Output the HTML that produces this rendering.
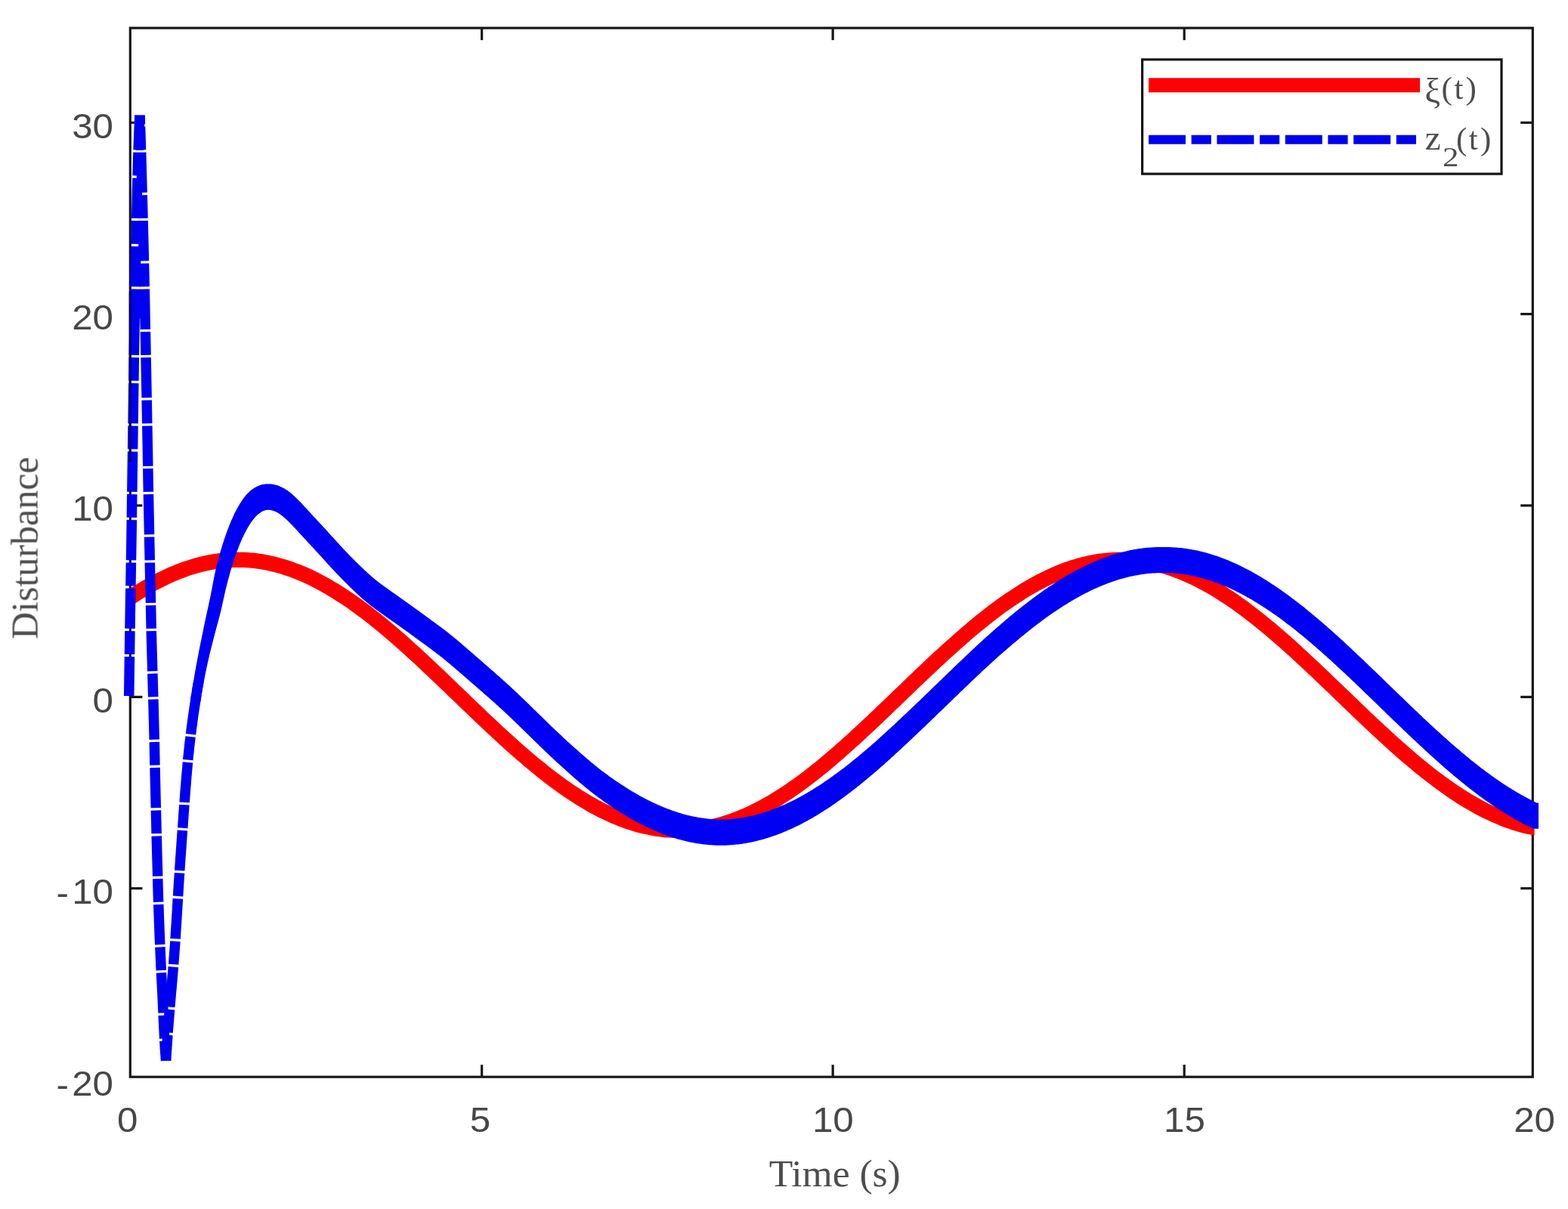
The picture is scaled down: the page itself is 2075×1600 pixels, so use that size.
<!DOCTYPE html>
<html lang="en">
<head>
<meta charset="utf-8">
<title>Disturbance estimation</title>
<style>
html,body{margin:0;padding:0;background:#ffffff;}
body{width:2075px;height:1600px;overflow:hidden;}
svg{display:block;}
</style>
</head>
<body>
<svg width="2075" height="1600" viewBox="0 0 2075 1600">
<defs>
<clipPath id="cr"><rect x="173.0" y="0" width="1857.6" height="1600"/></clipPath>
<clipPath id="cb"><rect x="150" y="0" width="1886.0" height="1600"/></clipPath>
<filter id="soft" x="-2%" y="-2%" width="104%" height="104%"><feGaussianBlur stdDeviation="0.7"/></filter>
</defs>
<rect width="2075" height="1600" fill="#ffffff"/>
<g filter="url(#soft)">
<rect x="172.3" y="37.05" width="1856.00" height="1388.15" fill="none" stroke="#161616" stroke-width="3.2"/>
<g stroke="#161616" stroke-width="3.2" fill="none">
<line x1="637.6" y1="1425.2" x2="637.6" y2="1409.1"/>
<line x1="637.6" y1="37.05" x2="637.6" y2="53.1"/>
<line x1="1102.1" y1="1425.2" x2="1102.1" y2="1409.1"/>
<line x1="1102.1" y1="37.05" x2="1102.1" y2="53.1"/>
<line x1="1567.2" y1="1425.2" x2="1567.2" y2="1409.1"/>
<line x1="1567.2" y1="37.05" x2="1567.2" y2="53.1"/>
<line x1="172.3" y1="162.3" x2="188.4" y2="162.3"/>
<line x1="2028.3" y1="162.3" x2="2012.2" y2="162.3"/>
<line x1="172.3" y1="415.6" x2="188.4" y2="415.6"/>
<line x1="2028.3" y1="415.6" x2="2012.2" y2="415.6"/>
<line x1="172.3" y1="669.0" x2="188.4" y2="669.0"/>
<line x1="2028.3" y1="669.0" x2="2012.2" y2="669.0"/>
<line x1="172.3" y1="922.4" x2="188.4" y2="922.4"/>
<line x1="2028.3" y1="922.4" x2="2012.2" y2="922.4"/>
<line x1="172.3" y1="1175.7" x2="188.4" y2="1175.7"/>
<line x1="2028.3" y1="1175.7" x2="2012.2" y2="1175.7"/>
</g>
<g fill="none" stroke-linejoin="round">
<path clip-path="url(#cr)" d="M160.0,799.2 L164.5,796.1 L169.0,793.0 L173.5,790.0 L178.0,787.0 L182.5,784.2 L187.0,781.4 L191.5,778.7 L196.0,776.0 L200.5,773.5 L205.0,771.0 L209.5,768.7 L214.0,766.4 L218.5,764.2 L223.0,762.1 L227.5,760.1 L232.0,758.2 L236.5,756.4 L241.0,754.7 L245.5,753.0 L250.0,751.5 L254.5,750.1 L259.0,748.8 L263.5,747.5 L268.0,746.4 L272.5,745.4 L277.0,744.5 L281.5,743.6 L286.0,742.9 L290.5,742.3 L295.0,741.8 L299.5,741.4 L304.0,741.1 L308.5,740.9 L313.0,740.8 L317.5,740.8 L322.0,740.9 L326.5,741.1 L331.0,741.5 L335.5,741.9 L340.0,742.4 L344.5,743.1 L348.9,743.8 L353.4,744.7 L357.9,745.6 L362.4,746.7 L366.9,747.8 L371.4,749.1 L375.9,750.4 L380.4,751.9 L384.9,753.4 L389.4,755.1 L393.9,756.8 L398.4,758.6 L402.9,760.6 L407.4,762.6 L411.9,764.7 L416.4,766.9 L420.9,769.2 L425.4,771.6 L429.9,774.1 L434.4,776.6 L438.9,779.3 L443.4,782.0 L447.9,784.8 L452.4,787.7 L456.9,790.7 L461.4,793.7 L465.9,796.8 L470.4,800.0 L474.9,803.2 L479.4,806.6 L483.9,809.9 L488.4,813.4 L492.9,816.9 L497.4,820.5 L501.9,824.1 L506.4,827.8 L510.9,831.6 L515.4,835.3 L519.9,839.2 L524.4,843.1 L528.9,847.0 L533.4,851.0 L537.9,855.0 L542.4,859.1 L546.9,863.2 L551.4,867.3 L555.9,871.4 L560.4,875.6 L564.9,879.8 L569.4,884.1 L573.9,888.3 L578.4,892.6 L582.9,896.9 L587.4,901.2 L591.9,905.5 L596.4,909.8 L600.9,914.2 L605.4,918.5 L609.9,922.8 L614.4,927.1 L618.9,931.5 L623.4,935.8 L627.9,940.1 L632.4,944.4 L636.9,948.7 L641.4,953.0 L645.9,957.2 L650.4,961.4 L654.9,965.6 L659.4,969.8 L663.9,973.9 L668.4,978.1 L672.9,982.1 L677.4,986.2 L681.9,990.2 L686.4,994.2 L690.9,998.1 L695.4,1001.9 L699.9,1005.8 L704.4,1009.6 L708.9,1013.3 L713.4,1016.9 L717.9,1020.6 L722.4,1024.1 L726.8,1027.6 L731.3,1031.0 L735.8,1034.4 L740.3,1037.7 L744.8,1040.9 L749.3,1044.1 L753.8,1047.2 L758.3,1050.2 L762.8,1053.1 L767.3,1056.0 L771.8,1058.7 L776.3,1061.4 L780.8,1064.1 L785.3,1066.6 L789.8,1069.0 L794.3,1071.4 L798.8,1073.6 L803.3,1075.8 L807.8,1077.9 L812.3,1079.9 L816.8,1081.8 L821.3,1083.6 L825.8,1085.3 L830.3,1086.9 L834.8,1088.4 L839.3,1089.9 L843.8,1091.2 L848.3,1092.4 L852.8,1093.5 L857.3,1094.5 L861.8,1095.4 L866.3,1096.2 L870.8,1097.0 L875.3,1097.6 L879.8,1098.1 L884.3,1098.5 L888.8,1098.7 L893.3,1098.9 L897.8,1099.0 L902.3,1099.0 L906.8,1098.9 L911.3,1098.6 L915.8,1098.3 L920.3,1097.8 L924.8,1097.3 L929.3,1096.6 L933.8,1095.9 L938.3,1095.0 L942.8,1094.1 L947.3,1093.0 L951.8,1091.9 L956.3,1090.6 L960.8,1089.2 L965.3,1087.8 L969.8,1086.2 L974.3,1084.5 L978.8,1082.8 L983.3,1080.9 L987.8,1079.0 L992.3,1077.0 L996.8,1074.8 L1001.3,1072.6 L1005.8,1070.3 L1010.3,1067.9 L1014.8,1065.4 L1019.3,1062.9 L1023.8,1060.2 L1028.3,1057.5 L1032.8,1054.7 L1037.3,1051.8 L1041.8,1048.8 L1046.3,1045.8 L1050.8,1042.6 L1055.3,1039.4 L1059.8,1036.2 L1064.3,1032.9 L1068.8,1029.5 L1073.3,1026.0 L1077.8,1022.5 L1082.3,1018.9 L1086.8,1015.3 L1091.3,1011.6 L1095.8,1007.8 L1100.3,1004.0 L1104.7,1000.2 L1109.2,996.3 L1113.7,992.3 L1118.2,988.4 L1122.7,984.3 L1127.2,980.3 L1131.7,976.2 L1136.2,972.0 L1140.7,967.9 L1145.2,963.7 L1149.7,959.5 L1154.2,955.2 L1158.7,951.0 L1163.2,946.7 L1167.7,942.4 L1172.2,938.1 L1176.7,933.8 L1181.2,929.5 L1185.7,925.2 L1190.2,920.8 L1194.7,916.5 L1199.2,912.2 L1203.7,907.8 L1208.2,903.5 L1212.7,899.2 L1217.2,894.9 L1221.7,890.6 L1226.2,886.4 L1230.7,882.1 L1235.2,877.9 L1239.7,873.7 L1244.2,869.5 L1248.7,865.4 L1253.2,861.3 L1257.7,857.2 L1262.2,853.2 L1266.7,849.2 L1271.2,845.2 L1275.7,841.3 L1280.2,837.4 L1284.7,833.6 L1289.2,829.8 L1293.7,826.1 L1298.2,822.4 L1302.7,818.8 L1307.2,815.3 L1311.7,811.8 L1316.2,808.4 L1320.7,805.0 L1325.2,801.7 L1329.7,798.5 L1334.2,795.4 L1338.7,792.3 L1343.2,789.3 L1347.7,786.4 L1352.2,783.5 L1356.7,780.7 L1361.2,778.1 L1365.7,775.5 L1370.2,772.9 L1374.7,770.5 L1379.2,768.2 L1383.7,765.9 L1388.2,763.7 L1392.7,761.7 L1397.2,759.7 L1401.7,757.8 L1406.2,756.0 L1410.7,754.3 L1415.2,752.7 L1419.7,751.2 L1424.2,749.8 L1428.7,748.5 L1433.2,747.3 L1437.7,746.2 L1442.2,745.2 L1446.7,744.3 L1451.2,743.5 L1455.7,742.8 L1460.2,742.2 L1464.7,741.7 L1469.2,741.3 L1473.7,741.0 L1478.2,740.9 L1482.6,740.8 L1487.1,740.8 L1491.6,741.0 L1496.1,741.2 L1500.6,741.6 L1505.1,742.0 L1509.6,742.6 L1514.1,743.2 L1518.6,744.0 L1523.1,744.9 L1527.6,745.8 L1532.1,746.9 L1536.6,748.1 L1541.1,749.4 L1545.6,750.7 L1550.1,752.2 L1554.6,753.8 L1559.1,755.4 L1563.6,757.2 L1568.1,759.1 L1572.6,761.0 L1577.1,763.1 L1581.6,765.2 L1586.1,767.4 L1590.6,769.8 L1595.1,772.2 L1599.6,774.7 L1604.1,777.2 L1608.6,779.9 L1613.1,782.6 L1617.6,785.5 L1622.1,788.4 L1626.6,791.3 L1631.1,794.4 L1635.6,797.5 L1640.1,800.7 L1644.6,804.0 L1649.1,807.3 L1653.6,810.7 L1658.1,814.2 L1662.6,817.7 L1667.1,821.3 L1671.6,825.0 L1676.1,828.7 L1680.6,832.4 L1685.1,836.2 L1689.6,840.1 L1694.1,844.0 L1698.6,847.9 L1703.1,851.9 L1707.6,855.9 L1712.1,860.0 L1716.6,864.1 L1721.1,868.2 L1725.6,872.4 L1730.1,876.6 L1734.6,880.8 L1739.1,885.0 L1743.6,889.3 L1748.1,893.6 L1752.6,897.9 L1757.1,902.2 L1761.6,906.5 L1766.1,910.8 L1770.6,915.1 L1775.1,919.5 L1779.6,923.8 L1784.1,928.1 L1788.6,932.4 L1793.1,936.8 L1797.6,941.1 L1802.1,945.4 L1806.6,949.7 L1811.1,953.9 L1815.6,958.2 L1820.1,962.4 L1824.6,966.6 L1829.1,970.7 L1833.6,974.9 L1838.1,979.0 L1842.6,983.1 L1847.1,987.1 L1851.6,991.1 L1856.1,995.0 L1860.5,999.0 L1865.0,1002.8 L1869.5,1006.6 L1874.0,1010.4 L1878.5,1014.1 L1883.0,1017.8 L1887.5,1021.4 L1892.0,1024.9 L1896.5,1028.4 L1901.0,1031.8 L1905.5,1035.1 L1910.0,1038.4 L1914.5,1041.6 L1919.0,1044.8 L1923.5,1047.9 L1928.0,1050.8 L1932.5,1053.8 L1937.0,1056.6 L1941.5,1059.4 L1946.0,1062.0 L1950.5,1064.6 L1955.0,1067.1 L1959.5,1069.6 L1964.0,1071.9 L1968.5,1074.1 L1973.0,1076.3 L1977.5,1078.4 L1982.0,1080.3 L1986.5,1082.2 L1991.0,1084.0 L1995.5,1085.7 L2000.0,1087.3 L2004.5,1088.8 L2009.0,1090.2 L2013.5,1091.5 L2018.0,1092.7 L2022.5,1093.8 L2027.0,1094.7 L2031.5,1095.6 L2036.0,1096.4 L2040.5,1097.1 L2045.0,1097.7" stroke="#ff0000" stroke-width="20.2" stroke-linecap="butt"/>
<path clip-path="url(#cb)" d="M251.8,927.4 L252.7,921.6 L253.6,916.1 L254.5,910.6 L255.4,905.2 L256.3,900.0 L257.2,894.9 L258.0,889.9 L258.9,884.9 L259.8,880.1 L260.7,875.3 L261.6,870.6 L262.5,866.0 L263.3,861.5 L264.2,857.0 L265.1,852.6 L266.0,848.3 L266.9,844.0 L267.7,839.7 L268.6,835.4 L269.5,831.1 L270.4,826.8 L271.3,822.6 L272.1,818.5 L273.0,814.4 L273.9,810.3 L274.8,806.3 L275.7,802.3 L276.5,798.3 L277.4,794.2 L278.3,790.0 L279.1,785.8 L280.0,781.3 L280.9,776.8 L281.7,772.2 L282.6,767.6 L283.5,763.1 L284.4,758.7 L285.3,754.5 L286.2,750.6 L287.1,746.9 L288.0,743.4 L288.9,740.0 L289.8,736.7 L290.7,733.4 L291.6,730.3 L292.5,727.2 L293.4,724.2 L294.3,721.3 L295.2,718.4 L296.1,715.7 L297.0,713.0 L297.9,710.4 L298.8,707.8 L299.7,705.3 L300.6,702.8 L301.5,700.4 L302.4,698.0 L303.3,695.7 L304.2,693.4 L305.1,691.2 L306.0,689.1 L307.0,687.0 L307.9,685.0 L308.8,683.0 L309.7,681.0 L310.6,679.1 L311.5,677.3 L312.5,675.5 L313.4,673.8 L314.3,672.1 L315.2,670.4 L316.2,668.8 L317.1,667.2 L318.1,665.7 L319.0,664.2 L319.9,662.8 L320.9,661.5 L321.8,660.1 L322.8,658.8 L323.7,657.5 L324.7,656.3 L325.7,655.1 L326.7,654.0 L327.7,652.9 L328.7,651.9 L329.8,650.9 L330.8,650.0 L331.8,649.1 L332.9,648.3 L333.9,647.5 L335.0,646.8 L336.0,646.1 L337.1,645.4 L338.1,644.8 L339.2,644.2 L340.3,643.7 L341.4,643.2 L342.5,642.7 L343.6,642.3 L344.7,641.9 L345.9,641.6 L347.0,641.3 L348.1,641.1 L349.3,640.9 L350.4,640.7 L351.5,640.6 L352.7,640.5 L353.8,640.5 L354.9,640.5 L356.1,640.5 L357.2,640.5 L358.3,640.6 L359.4,640.7 L360.4,640.8 L361.5,641.0 L362.6,641.2 L363.7,641.4 L364.8,641.7 L365.9,642.0 L366.9,642.3 L368.0,642.6 L369.0,643.0 L370.1,643.4 L371.1,643.9 L372.2,644.4 L373.2,644.9 L374.3,645.4 L375.3,646.0 L376.3,646.6 L377.3,647.2 L378.3,647.8 L379.3,648.5 L380.3,649.1 L381.3,649.8 L382.2,650.6 L383.2,651.3 L384.2,652.1 L385.1,652.8 L386.1,653.6 L387.0,654.4 L387.9,655.3 L388.9,656.1 L389.8,657.0 L390.7,657.8 L391.7,658.7 L392.6,659.6 L393.5,660.5 L394.4,661.4 L395.3,662.3 L396.2,663.3 L397.2,664.2 L398.1,665.1 L399.0,666.1 L399.9,667.0 L400.8,668.0 L401.7,669.0 L402.5,669.9 L403.4,670.9 L404.3,671.8 L405.2,672.8 L406.1,673.8 L407.0,674.7 L407.9,675.7 L408.8,676.7 L409.6,677.6 L410.5,678.6 L411.4,679.5 L412.3,680.5 L413.2,681.5 L414.0,682.4 L414.9,683.4 L415.8,684.3 L416.7,685.3 L417.6,686.2 L418.5,687.2 L419.3,688.1 L420.2,689.1 L421.1,690.0 L422.0,691.0 L422.9,691.9 L423.8,692.9 L424.7,693.9 L425.6,694.8 L426.4,695.8 L427.3,696.7 L428.2,697.7 L429.1,698.7 L430.0,699.6 L430.9,700.6 L431.8,701.6 L432.7,702.5 L433.6,703.5 L434.4,704.5 L435.3,705.5 L436.2,706.4 L437.1,707.4 L438.0,708.4 L438.9,709.4 L439.8,710.4 L440.6,711.3 L441.5,712.3 L442.4,713.3 L443.3,714.3 L444.2,715.2 L445.1,716.2 L445.9,717.2 L446.8,718.1 L447.7,719.1 L448.6,720.0 L449.4,721.0 L450.3,722.0 L451.2,722.9 L452.1,723.8 L453.0,724.8 L453.8,725.7 L454.7,726.7 L455.6,727.6 L456.5,728.5 L457.3,729.4 L458.2,730.4 L459.1,731.3 L460.0,732.2 L460.8,733.1 L461.7,734.0 L462.6,734.9 L463.5,735.8 L464.3,736.7 L465.2,737.6 L466.1,738.5 L467.0,739.4 L467.8,740.2 L468.7,741.1 L469.6,742.0 L470.5,742.9 L471.3,743.7 L472.2,744.6 L473.1,745.4 L474.0,746.3 L474.8,747.2 L475.7,748.0 L476.6,748.8 L477.5,749.7 L478.3,750.5 L479.2,751.4 L480.1,752.2 L481.0,753.0 L481.8,753.9 L482.7,754.7 L483.6,755.5 L484.4,756.3 L485.3,757.1 L486.2,757.9 L487.0,758.7 L487.9,759.5 L488.8,760.3 L489.6,761.0 L490.5,761.8 L491.4,762.5 L492.2,763.3 L493.1,764.0 L493.9,764.7 L494.8,765.5 L495.6,766.2 L496.5,766.9 L497.3,767.6 L498.2,768.3 L499.0,768.9 L499.9,769.6 L500.8,770.3 L501.6,770.9 L502.5,771.6 L503.3,772.2 L504.2,772.9 L505.1,773.5 L505.9,774.2 L506.8,774.8 L507.7,775.5 L508.6,776.1 L509.4,776.7 L510.3,777.3 L511.2,778.0 L512.1,778.6 L512.9,779.2 L513.8,779.9 L514.7,780.5 L515.6,781.1 L516.5,781.7 L517.4,782.4 L518.2,783.0 L519.1,783.6 L520.0,784.2 L520.9,784.9 L521.8,785.5 L522.7,786.1 L523.6,786.8 L524.4,787.4 L525.3,788.0 L526.2,788.6 L527.1,789.3 L528.0,789.9 L528.9,790.5 L529.7,791.1 L530.6,791.8 L531.5,792.4 L532.4,793.0 L533.3,793.6 L534.2,794.3 L535.1,794.9 L535.9,795.5 L536.8,796.2 L537.7,796.8 L538.6,797.4 L539.5,798.1 L540.4,798.7 L541.3,799.3 L542.2,799.9 L543.0,800.6 L543.9,801.2 L544.8,801.9 L545.7,802.5 L546.6,803.1 L547.5,803.8 L548.4,804.4 L549.3,805.0 L550.1,805.7 L551.0,806.3 L551.9,807.0 L552.8,807.6 L553.7,808.3 L554.6,808.9 L555.5,809.5 L556.4,810.2 L557.2,810.8 L558.1,811.5 L559.0,812.1 L559.9,812.8 L560.8,813.4 L561.7,814.1 L562.6,814.7 L563.5,815.4 L564.3,816.0 L565.2,816.7 L566.1,817.3 L567.0,818.0 L567.9,818.6 L568.8,819.3 L569.7,819.9 L570.5,820.6 L571.4,821.2 L572.3,821.9 L573.2,822.5 L574.1,823.2 L575.0,823.8 L575.9,824.5 L576.8,825.1 L577.6,825.8 L578.5,826.4 L579.4,827.1 L580.3,827.8 L581.2,828.4 L582.1,829.1 L583.0,829.8 L583.9,830.4 L584.8,831.1 L585.7,831.8 L586.6,832.5 L587.5,833.1 L588.4,833.8 L589.3,834.5 L590.2,835.2 L591.1,835.9 L592.0,836.6 L592.9,837.3 L593.8,838.0 L594.7,838.7 L595.5,839.4 L596.4,840.2 L597.3,840.9 L598.2,841.6 L599.1,842.3 L600.0,843.1 L600.9,843.8 L601.8,844.5 L602.7,845.3 L603.6,846.0 L604.5,846.8 L605.4,847.5 L606.3,848.3 L607.2,849.0 L608.1,849.8 L609.0,850.6 L609.9,851.3 L610.8,852.1 L611.7,852.8 L612.5,853.6 L613.4,854.4 L614.3,855.1 L615.2,855.9 L616.1,856.6 L617.0,857.4 L617.9,858.2 L618.8,858.9 L619.6,859.7 L620.5,860.5 L621.4,861.2 L622.3,862.0 L623.2,862.8 L624.1,863.5 L625.0,864.3 L625.8,865.1 L626.7,865.8 L627.6,866.6 L628.5,867.4 L629.4,868.1 L630.3,868.9 L631.2,869.7 L632.0,870.5 L632.9,871.2 L633.8,872.0 L634.7,872.8 L635.6,873.5 L636.5,874.3 L637.4,875.1 L638.2,875.9 L639.1,876.6 L640.0,877.4 L640.9,878.2 L641.8,879.0 L642.7,879.7 L643.6,880.5 L644.4,881.3 L645.3,882.1 L646.2,882.8 L647.1,883.6 L648.0,884.4 L648.9,885.2 L649.8,885.9 L650.6,886.7 L651.5,887.5 L652.4,888.3 L653.3,889.0 L654.2,889.8 L655.1,890.6 L656.0,891.4 L656.8,892.2 L657.7,892.9 L658.6,893.7 L659.5,894.5 L660.4,895.3 L661.3,896.1 L662.2,896.9 L663.1,897.7 L664.0,898.4 L664.9,899.2 L665.7,900.0 L666.6,900.8 L667.5,901.6 L668.4,902.4 L669.3,903.2 L670.2,904.0 L671.1,904.9 L672.0,905.7 L672.9,906.5 L673.8,907.3 L674.7,908.1 L675.6,908.9 L676.4,909.8 L677.3,910.6 L678.2,911.4 L679.1,912.2 L680.0,913.1 L680.9,913.9 L681.8,914.7 L682.7,915.6 L683.6,916.4 L684.5,917.3 L685.4,918.1 L686.2,919.0 L687.1,919.8 L688.0,920.7 L688.9,921.5 L689.8,922.4 L690.7,923.2 L691.6,924.1 L692.5,924.9 L693.4,925.8 L694.2,926.6 L695.1,927.5 L696.0,928.3 L696.9,929.2 L697.8,930.1 L698.7,930.9 L699.6,931.8 L700.5,932.7 L701.3,933.5 L702.2,934.4 L703.1,935.2 L704.0,936.1 L704.9,937.0 L706.8,938.9 L708.8,940.8 L710.7,942.7 L712.6,944.6 L714.6,946.4 L716.5,948.3 L718.4,950.2 L720.3,952.1 L722.3,954.0 L724.2,955.8 L726.1,957.7 L728.0,959.5 L729.9,961.4 L731.9,963.2 L733.8,965.1 L735.7,966.9 L737.6,968.7 L739.6,970.5 L741.5,972.3 L743.4,974.1 L745.3,975.9 L747.2,977.7 L749.2,979.5 L751.1,981.2 L753.0,983.0 L754.9,984.7 L756.8,986.5 L758.8,988.2 L760.7,989.9 L762.6,991.6 L764.5,993.3 L766.4,995.0 L768.3,996.7 L770.3,998.4 L772.2,1000.0 L774.1,1001.7 L776.0,1003.3 L777.9,1004.9 L779.8,1006.6 L781.7,1008.2 L783.6,1009.7 L785.5,1011.3 L787.4,1012.9 L789.3,1014.4 L791.2,1015.9 L793.1,1017.4 L795.0,1018.9 L796.9,1020.4 L798.8,1021.8 L800.7,1023.2 L802.6,1024.6 L804.5,1026.0 L806.4,1027.4 L808.3,1028.8 L810.2,1030.1 L812.1,1031.4 L814.0,1032.7 L815.9,1034.0 L817.8,1035.3 L819.7,1036.6 L821.6,1037.9 L823.5,1039.1 L825.4,1040.3 L827.3,1041.5 L829.2,1042.7 L831.1,1043.9 L833.0,1045.1 L834.9,1046.3 L836.8,1047.4 L838.7,1048.5 L840.6,1049.6 L842.5,1050.7 L844.4,1051.8 L846.3,1052.9 L848.2,1053.9 L850.1,1054.9 L852.0,1055.9 L853.9,1056.9 L855.8,1057.9 L857.7,1058.9 L859.5,1059.8 L861.4,1060.8 L863.3,1061.7 L865.2,1062.6 L867.1,1063.5 L869.0,1064.3 L870.9,1065.2 L872.7,1066.0 L874.6,1066.8 L876.5,1067.6 L878.4,1068.4 L880.3,1069.1 L882.1,1069.9 L884.0,1070.6 L885.9,1071.3 L887.8,1072.0 L889.6,1072.7 L891.5,1073.3 L893.4,1074.0 L895.3,1074.6 L897.1,1075.2 L899.0,1075.8 L900.9,1076.3 L902.8,1076.9 L904.6,1077.4 L906.5,1077.9 L908.4,1078.4 L910.2,1078.9 L912.1,1079.3 L914.0,1079.8 L915.8,1080.2 L917.7,1080.6 L919.6,1081.0 L921.4,1081.3 L923.3,1081.7 L925.2,1082.0 L927.0,1082.3 L928.9,1082.6 L930.8,1082.8 L932.6,1083.1 L934.5,1083.3 L936.4,1083.5 L938.2,1083.7 L940.1,1083.9 L941.9,1084.1 L943.8,1084.2 L945.6,1084.3 L947.5,1084.4 L949.3,1084.5 L951.2,1084.5 L953.0,1084.6 L954.9,1084.6 L956.7,1084.5 L958.6,1084.5 L960.5,1084.4 L962.3,1084.3 L964.2,1084.2 L966.0,1084.1 L967.9,1083.9 L969.7,1083.8 L971.6,1083.6 L973.4,1083.4 L975.3,1083.1 L977.2,1082.9 L979.0,1082.6 L980.9,1082.3 L982.8,1082.0 L984.6,1081.7 L986.5,1081.3 L988.4,1081.0 L990.2,1080.6 L992.1,1080.2 L994.0,1079.8 L995.8,1079.4 L997.7,1078.9 L999.6,1078.4 L1001.4,1077.9 L1003.3,1077.4 L1005.2,1076.9 L1007.0,1076.4 L1008.9,1075.8 L1010.8,1075.2 L1012.7,1074.6 L1014.5,1074.0 L1016.4,1073.3 L1018.3,1072.7 L1020.2,1072.0 L1022.0,1071.3 L1023.9,1070.6 L1025.8,1069.9 L1027.7,1069.2 L1029.6,1068.4 L1031.4,1067.6 L1033.3,1066.8 L1035.2,1066.0 L1037.1,1065.2 L1039.0,1064.4 L1040.9,1063.5 L1042.8,1062.6 L1044.6,1061.7 L1046.5,1060.8 L1048.4,1059.9 L1050.3,1059.0 L1052.2,1058.0 L1054.1,1057.0 L1056.0,1056.0 L1057.9,1055.0 L1059.7,1054.0 L1061.6,1052.9 L1063.5,1051.9 L1065.4,1050.8 L1067.3,1049.7 L1069.2,1048.6 L1071.1,1047.5 L1073.0,1046.3 L1074.9,1045.2 L1076.8,1044.0 L1078.7,1042.8 L1080.6,1041.6 L1082.5,1040.4 L1084.4,1039.2 L1086.3,1038.0 L1088.2,1036.7 L1090.1,1035.4 L1092.0,1034.1 L1093.9,1032.8 L1095.8,1031.5 L1097.7,1030.2 L1099.6,1028.8 L1101.5,1027.5 L1103.4,1026.1 L1105.3,1024.7 L1107.2,1023.3 L1109.1,1021.9 L1111.0,1020.5 L1113.0,1019.1 L1114.9,1017.6 L1116.8,1016.2 L1118.7,1014.7 L1120.6,1013.2 L1122.5,1011.7 L1124.4,1010.2 L1126.3,1008.7 L1128.2,1007.1 L1130.1,1005.6 L1132.1,1004.0 L1134.0,1002.5 L1135.9,1000.9 L1137.8,999.3 L1139.7,997.7 L1141.6,996.1 L1143.5,994.5 L1145.5,992.8 L1147.4,991.2 L1149.3,989.6 L1151.2,987.9 L1153.1,986.2 L1155.0,984.5 L1157.0,982.9 L1158.9,981.2 L1160.8,979.5 L1162.7,977.7 L1164.6,976.0 L1166.6,974.3 L1168.5,972.6 L1170.4,970.8 L1172.3,969.1 L1174.2,967.3 L1176.2,965.5 L1178.1,963.7 L1180.0,962.0 L1181.9,960.2 L1183.9,958.4 L1185.8,956.6 L1187.7,954.8 L1189.6,953.0 L1191.6,951.2 L1193.5,949.3 L1195.4,947.5 L1197.3,945.7 L1199.3,943.9 L1201.2,942.0 L1203.1,940.2 L1205.1,938.4 L1207.0,936.6 L1208.9,934.7 L1210.8,932.9 L1212.8,931.0 L1214.7,929.2 L1216.6,927.4 L1218.5,925.5 L1220.5,923.7 L1222.4,921.8 L1224.3,919.9 L1226.3,918.1 L1228.2,916.2 L1230.1,914.4 L1232.0,912.5 L1234.0,910.6 L1235.9,908.8 L1237.8,906.9 L1239.8,905.0 L1241.7,903.2 L1243.6,901.3 L1245.6,899.4 L1247.5,897.6 L1249.4,895.7 L1251.4,893.8 L1253.3,892.0 L1255.2,890.1 L1257.2,888.2 L1259.1,886.4 L1261.0,884.5 L1263.0,882.6 L1264.9,880.8 L1266.8,878.9 L1268.8,877.1 L1270.7,875.2 L1272.6,873.4 L1274.6,871.5 L1276.5,869.7 L1278.4,867.8 L1280.4,866.0 L1282.3,864.2 L1284.3,862.3 L1286.2,860.5 L1288.1,858.7 L1290.1,856.9 L1292.0,855.1 L1294.0,853.3 L1295.9,851.5 L1297.8,849.7 L1299.8,847.9 L1301.7,846.1 L1303.7,844.4 L1305.6,842.6 L1307.6,840.9 L1309.5,839.2 L1311.4,837.4 L1313.4,835.7 L1315.3,834.0 L1317.3,832.3 L1319.2,830.6 L1321.2,828.9 L1323.1,827.2 L1325.0,825.5 L1327.0,823.9 L1328.9,822.2 L1330.9,820.6 L1332.8,818.9 L1334.8,817.3 L1336.7,815.6 L1338.7,814.0 L1340.6,812.4 L1342.6,810.8 L1344.5,809.2 L1346.5,807.7 L1348.4,806.1 L1350.4,804.5 L1352.3,803.0 L1354.3,801.4 L1356.2,799.9 L1358.2,798.4 L1360.1,796.9 L1362.1,795.4 L1364.0,793.9 L1366.0,792.5 L1367.9,791.0 L1369.9,789.5 L1371.8,788.1 L1373.8,786.7 L1375.7,785.3 L1377.7,783.9 L1379.6,782.5 L1381.6,781.1 L1383.6,779.8 L1385.5,778.4 L1387.5,777.1 L1389.4,775.8 L1391.4,774.5 L1393.4,773.2 L1395.3,771.9 L1397.3,770.6 L1399.3,769.4 L1401.2,768.1 L1403.2,766.9 L1405.1,765.7 L1407.1,764.5 L1409.1,763.3 L1411.0,762.2 L1413.0,761.0 L1415.0,759.9 L1416.9,758.8 L1418.9,757.7 L1420.9,756.6 L1422.9,755.5 L1424.8,754.5 L1426.8,753.5 L1428.8,752.4 L1430.7,751.4 L1432.7,750.5 L1434.7,749.5 L1436.7,748.5 L1438.6,747.6 L1440.6,746.7 L1442.6,745.8 L1444.6,744.9 L1446.5,744.0 L1448.5,743.2 L1450.5,742.3 L1452.5,741.5 L1454.5,740.7 L1456.5,739.9 L1458.4,739.2 L1460.4,738.4 L1462.4,737.7 L1464.4,737.0 L1466.4,736.3 L1468.4,735.6 L1470.3,735.0 L1472.3,734.3 L1474.3,733.7 L1476.3,733.1 L1478.3,732.5 L1480.3,732.0 L1482.3,731.4 L1484.3,730.9 L1486.3,730.4 L1488.2,729.9 L1490.2,729.4 L1492.2,729.0 L1494.2,728.5 L1496.2,728.1 L1498.2,727.7 L1500.2,727.3 L1502.2,727.0 L1504.2,726.7 L1506.2,726.3 L1508.2,726.0 L1510.2,725.8 L1512.2,725.5 L1514.2,725.3 L1516.2,725.0 L1518.2,724.8 L1520.2,724.7 L1522.2,724.5 L1524.2,724.4 L1526.2,724.3 L1528.2,724.2 L1530.2,724.1 L1532.2,724.0 L1534.2,724.0 L1536.2,723.9 L1538.2,723.9 L1540.2,723.9 L1542.1,723.9 L1544.1,724.0 L1546.1,724.0 L1548.1,724.1 L1550.1,724.2 L1552.1,724.3 L1554.1,724.4 L1556.1,724.5 L1558.1,724.7 L1560.1,724.9 L1562.1,725.1 L1564.1,725.3 L1566.1,725.5 L1568.1,725.8 L1570.1,726.1 L1572.1,726.4 L1574.1,726.7 L1576.1,727.1 L1578.1,727.4 L1580.1,727.8 L1582.1,728.2 L1584.1,728.6 L1586.1,729.1 L1588.1,729.5 L1590.1,730.0 L1592.1,730.5 L1594.1,731.0 L1596.1,731.5 L1598.1,732.1 L1600.1,732.7 L1602.0,733.3 L1604.0,733.9 L1606.0,734.5 L1608.0,735.2 L1610.0,735.8 L1612.0,736.5 L1614.0,737.2 L1616.0,737.9 L1617.9,738.7 L1619.9,739.4 L1621.9,740.2 L1623.9,741.0 L1625.9,741.8 L1627.9,742.7 L1629.8,743.5 L1631.8,744.4 L1633.8,745.3 L1635.8,746.2 L1637.8,747.1 L1639.7,748.0 L1641.7,749.0 L1643.7,749.9 L1645.7,750.9 L1647.6,751.9 L1649.6,752.9 L1651.6,754.0 L1653.5,755.0 L1655.5,756.1 L1657.5,757.2 L1659.5,758.3 L1661.4,759.4 L1663.4,760.5 L1665.4,761.7 L1667.3,762.8 L1669.3,764.0 L1671.3,765.2 L1673.2,766.4 L1675.2,767.6 L1677.1,768.9 L1679.1,770.1 L1681.1,771.4 L1683.0,772.7 L1685.0,773.9 L1687.0,775.3 L1688.9,776.6 L1690.9,777.9 L1692.8,779.3 L1694.8,780.6 L1696.8,782.0 L1698.7,783.4 L1700.7,784.8 L1702.6,786.2 L1704.6,787.6 L1706.5,789.1 L1708.5,790.5 L1710.4,792.0 L1712.4,793.5 L1714.3,794.9 L1716.3,796.4 L1718.3,798.0 L1720.2,799.5 L1722.2,801.0 L1724.1,802.6 L1726.1,804.1 L1728.0,805.7 L1730.0,807.3 L1731.9,808.9 L1733.9,810.4 L1735.8,812.1 L1737.7,813.7 L1739.7,815.3 L1741.6,816.9 L1743.6,818.6 L1745.5,820.2 L1747.5,821.9 L1749.4,823.6 L1751.4,825.3 L1753.3,827.0 L1755.3,828.6 L1757.2,830.4 L1759.1,832.1 L1761.1,833.8 L1763.0,835.5 L1765.0,837.3 L1766.9,839.0 L1768.9,840.8 L1770.8,842.5 L1772.7,844.3 L1774.7,846.0 L1776.6,847.8 L1778.6,849.6 L1780.5,851.4 L1782.4,853.2 L1784.4,855.0 L1786.3,856.8 L1788.3,858.6 L1790.2,860.4 L1792.1,862.2 L1794.1,864.1 L1796.0,865.9 L1797.9,867.7 L1799.9,869.6 L1801.8,871.4 L1803.8,873.3 L1805.7,875.1 L1807.6,877.0 L1809.6,878.8 L1811.5,880.7 L1813.4,882.5 L1815.4,884.4 L1817.3,886.2 L1819.2,888.1 L1821.2,890.0 L1823.1,891.8 L1825.0,893.7 L1827.0,895.6 L1828.9,897.5 L1830.8,899.3 L1832.8,901.2 L1834.7,903.1 L1836.6,904.9 L1838.6,906.8 L1840.5,908.7 L1842.4,910.6 L1844.4,912.4 L1846.3,914.3 L1848.2,916.2 L1850.1,918.0 L1852.1,919.9 L1854.0,921.8 L1855.9,923.6 L1857.9,925.5 L1859.8,927.3 L1861.7,929.2 L1863.6,931.1 L1865.6,932.9 L1867.5,934.8 L1869.4,936.6 L1871.4,938.4 L1873.3,940.3 L1875.2,942.1 L1877.1,943.9 L1879.1,945.8 L1881.0,947.6 L1882.9,949.4 L1884.8,951.2 L1886.8,953.0 L1888.7,954.8 L1890.6,956.6 L1892.5,958.4 L1894.5,960.2 L1896.4,961.9 L1898.3,963.7 L1900.2,965.5 L1902.1,967.2 L1904.1,969.0 L1906.0,970.7 L1907.9,972.5 L1909.8,974.2 L1911.7,975.9 L1913.7,977.6 L1915.6,979.3 L1917.5,981.0 L1919.4,982.7 L1921.3,984.4 L1923.3,986.1 L1925.2,987.7 L1927.1,989.4 L1929.0,991.0 L1930.9,992.6 L1932.8,994.3 L1934.8,995.9 L1936.7,997.5 L1938.6,999.1 L1940.5,1000.7 L1942.4,1002.2 L1944.3,1003.8 L1946.2,1005.4 L1948.2,1006.9 L1950.1,1008.4 L1952.0,1010.0 L1953.9,1011.5 L1955.8,1013.0 L1957.7,1014.4 L1959.6,1015.9 L1961.5,1017.4 L1963.4,1018.8 L1965.3,1020.3 L1967.3,1021.7 L1969.2,1023.1 L1971.1,1024.5 L1973.0,1025.9 L1974.9,1027.2 L1976.8,1028.6 L1978.7,1029.9 L1980.6,1031.3 L1982.5,1032.6 L1984.4,1033.9 L1986.3,1035.2 L1988.2,1036.5 L1990.1,1037.7 L1992.0,1039.0 L1993.9,1040.2 L1995.8,1041.4 L1997.7,1042.6 L1999.6,1043.8 L2001.5,1045.0 L2003.4,1046.1 L2005.3,1047.3 L2007.2,1048.4 L2009.1,1049.5 L2011.0,1050.6 L2012.9,1051.7 L2014.8,1052.7 L2016.7,1053.8 L2018.6,1054.8 L2020.4,1055.8 L2022.3,1056.8 L2024.2,1057.8 L2026.1,1058.8 L2028.0,1059.7 L2029.9,1060.7 L2031.8,1061.6 L2032.9,1062.3 L2033.3,1062.5 L2034.5,1062.5 L2036.5,1062.5 L2038.4,1062.5 L2040.3,1062.5 L2042.3,1062.5 L2044.2,1062.5 L2046.1,1062.5 L2048.1,1062.5 L2050.0,1062.5 L2050.0,1096.7 L2048.1,1096.7 L2046.1,1096.7 L2044.2,1096.7 L2042.3,1096.7 L2040.3,1096.7 L2038.4,1096.7 L2036.5,1096.7 L2034.5,1096.7 L2031.9,1096.8 L2028.5,1096.2 L2025.7,1095.1 L2023.8,1094.1 L2021.8,1093.2 L2019.8,1092.2 L2017.8,1091.2 L2015.9,1090.2 L2013.9,1089.1 L2011.9,1088.1 L2009.9,1087.0 L2008.0,1086.0 L2006.0,1084.9 L2004.0,1083.8 L2002.1,1082.6 L2000.1,1081.5 L1998.1,1080.3 L1996.2,1079.2 L1994.2,1078.0 L1992.2,1076.8 L1990.3,1075.6 L1988.3,1074.3 L1986.3,1073.1 L1984.4,1071.8 L1982.4,1070.5 L1980.5,1069.2 L1978.5,1067.9 L1976.5,1066.6 L1974.6,1065.3 L1972.6,1063.9 L1970.7,1062.6 L1968.7,1061.2 L1966.8,1059.8 L1964.8,1058.4 L1962.8,1057.0 L1960.9,1055.6 L1958.9,1054.2 L1957.0,1052.7 L1955.0,1051.3 L1953.1,1049.8 L1951.1,1048.3 L1949.2,1046.8 L1947.2,1045.3 L1945.3,1043.8 L1943.3,1042.2 L1941.4,1040.7 L1939.4,1039.2 L1937.5,1037.6 L1935.5,1036.0 L1933.6,1034.4 L1931.6,1032.8 L1929.7,1031.2 L1927.7,1029.6 L1925.8,1028.0 L1923.8,1026.4 L1921.9,1024.7 L1919.9,1023.1 L1918.0,1021.4 L1916.0,1019.7 L1914.1,1018.0 L1912.1,1016.4 L1910.2,1014.7 L1908.3,1013.0 L1906.3,1011.2 L1904.4,1009.5 L1902.4,1007.8 L1900.5,1006.1 L1898.5,1004.3 L1896.6,1002.6 L1894.7,1000.8 L1892.7,999.1 L1890.8,997.3 L1888.8,995.5 L1886.9,993.7 L1884.9,991.9 L1883.0,990.1 L1881.1,988.3 L1879.1,986.5 L1877.2,984.7 L1875.3,982.9 L1873.3,981.1 L1871.4,979.3 L1869.4,977.5 L1867.5,975.6 L1865.6,973.8 L1863.6,971.9 L1861.7,970.1 L1859.8,968.3 L1857.8,966.4 L1855.9,964.6 L1854.0,962.7 L1852.0,960.8 L1850.1,959.0 L1848.1,957.1 L1846.2,955.3 L1844.3,953.4 L1842.3,951.5 L1840.4,949.7 L1838.5,947.8 L1836.5,945.9 L1834.6,944.0 L1832.7,942.2 L1830.7,940.3 L1828.8,938.4 L1826.9,936.5 L1825.0,934.7 L1823.0,932.8 L1821.1,930.9 L1819.2,929.1 L1817.2,927.2 L1815.3,925.3 L1813.4,923.5 L1811.4,921.6 L1809.5,919.7 L1807.6,917.9 L1805.7,916.0 L1803.7,914.2 L1801.8,912.3 L1799.9,910.5 L1797.9,908.6 L1796.0,906.8 L1794.1,904.9 L1792.2,903.1 L1790.2,901.2 L1788.3,899.4 L1786.4,897.6 L1784.5,895.8 L1782.5,894.0 L1780.6,892.1 L1778.7,890.3 L1776.8,888.5 L1774.8,886.7 L1772.9,885.0 L1771.0,883.2 L1769.1,881.4 L1767.2,879.6 L1765.2,877.9 L1763.3,876.1 L1761.4,874.3 L1759.5,872.6 L1757.5,870.9 L1755.6,869.1 L1753.7,867.4 L1751.8,865.7 L1749.9,864.0 L1747.9,862.3 L1746.0,860.6 L1744.1,858.9 L1742.2,857.2 L1740.3,855.6 L1738.4,853.9 L1736.4,852.3 L1734.5,850.6 L1732.6,849.0 L1730.7,847.4 L1728.8,845.8 L1726.9,844.2 L1724.9,842.6 L1723.0,841.0 L1721.1,839.5 L1719.2,837.9 L1717.3,836.4 L1715.4,834.8 L1713.5,833.3 L1711.6,831.8 L1709.6,830.3 L1707.7,828.8 L1705.8,827.3 L1703.9,825.9 L1702.0,824.4 L1700.1,823.0 L1698.2,821.6 L1696.3,820.1 L1694.4,818.7 L1692.5,817.3 L1690.6,816.0 L1688.7,814.6 L1686.8,813.3 L1684.8,811.9 L1682.9,810.6 L1681.0,809.3 L1679.1,808.0 L1677.2,806.7 L1675.3,805.5 L1673.4,804.2 L1671.5,803.0 L1669.6,801.8 L1667.7,800.6 L1665.8,799.4 L1663.9,798.2 L1662.0,797.0 L1660.1,795.9 L1658.2,794.7 L1656.4,793.6 L1654.5,792.5 L1652.6,791.4 L1650.7,790.4 L1648.8,789.3 L1646.9,788.3 L1645.0,787.3 L1643.1,786.3 L1641.2,785.3 L1639.3,784.3 L1637.4,783.4 L1635.6,782.4 L1633.7,781.5 L1631.8,780.6 L1629.9,779.7 L1628.0,778.8 L1626.1,778.0 L1624.2,777.1 L1622.4,776.3 L1620.5,775.5 L1618.6,774.7 L1616.7,774.0 L1614.8,773.2 L1613.0,772.5 L1611.1,771.8 L1609.2,771.1 L1607.3,770.4 L1605.4,769.7 L1603.6,769.1 L1601.7,768.5 L1599.8,767.9 L1598.0,767.3 L1596.1,766.7 L1594.2,766.2 L1592.3,765.6 L1590.5,765.1 L1588.6,764.6 L1586.7,764.1 L1584.9,763.7 L1583.0,763.2 L1581.1,762.8 L1579.3,762.4 L1577.4,762.0 L1575.5,761.6 L1573.7,761.3 L1571.8,760.9 L1569.9,760.6 L1568.1,760.3 L1566.2,760.1 L1564.3,759.8 L1562.5,759.6 L1560.6,759.3 L1558.7,759.1 L1556.9,759.0 L1555.0,758.8 L1553.2,758.7 L1551.3,758.5 L1549.4,758.4 L1547.6,758.3 L1545.7,758.3 L1543.8,758.2 L1542.0,758.2 L1540.1,758.1 L1538.2,758.1 L1536.4,758.2 L1534.5,758.2 L1532.6,758.3 L1530.7,758.3 L1528.9,758.4 L1527.0,758.5 L1525.1,758.6 L1523.3,758.8 L1521.4,758.9 L1519.6,759.1 L1517.7,759.3 L1515.8,759.5 L1514.0,759.8 L1512.1,760.0 L1510.2,760.3 L1508.4,760.6 L1506.5,760.9 L1504.7,761.2 L1502.8,761.6 L1500.9,761.9 L1499.1,762.3 L1497.2,762.7 L1495.3,763.1 L1493.4,763.6 L1491.6,764.0 L1489.7,764.5 L1487.8,765.0 L1486.0,765.5 L1484.1,766.0 L1482.2,766.6 L1480.3,767.1 L1478.5,767.7 L1476.6,768.3 L1474.7,768.9 L1472.8,769.6 L1471.0,770.2 L1469.1,770.9 L1467.2,771.6 L1465.3,772.3 L1463.5,773.0 L1461.6,773.7 L1459.7,774.5 L1457.8,775.2 L1455.9,776.0 L1454.0,776.8 L1452.2,777.7 L1450.3,778.5 L1448.4,779.3 L1446.5,780.2 L1444.6,781.1 L1442.7,782.0 L1440.8,782.9 L1439.0,783.9 L1437.1,784.8 L1435.2,785.8 L1433.3,786.8 L1431.4,787.8 L1429.5,788.8 L1427.6,789.9 L1425.7,790.9 L1423.8,792.0 L1421.9,793.1 L1420.0,794.2 L1418.1,795.3 L1416.2,796.4 L1414.4,797.6 L1412.5,798.7 L1410.6,799.9 L1408.7,801.1 L1406.8,802.3 L1404.9,803.5 L1403.0,804.7 L1401.1,806.0 L1399.2,807.2 L1397.3,808.5 L1395.4,809.8 L1393.4,811.1 L1391.5,812.4 L1389.6,813.8 L1387.7,815.1 L1385.8,816.5 L1383.9,817.8 L1382.0,819.2 L1380.1,820.6 L1378.2,822.0 L1376.3,823.5 L1374.4,824.9 L1372.5,826.3 L1370.6,827.8 L1368.6,829.3 L1366.7,830.8 L1364.8,832.2 L1362.9,833.7 L1361.0,835.3 L1359.1,836.8 L1357.2,838.3 L1355.3,839.9 L1353.3,841.4 L1351.4,843.0 L1349.5,844.6 L1347.6,846.2 L1345.7,847.8 L1343.8,849.4 L1341.9,851.0 L1339.9,852.6 L1338.0,854.3 L1336.1,855.9 L1334.2,857.5 L1332.3,859.2 L1330.3,860.9 L1328.4,862.6 L1326.5,864.2 L1324.6,865.9 L1322.7,867.6 L1320.7,869.3 L1318.8,871.1 L1316.9,872.8 L1315.0,874.5 L1313.1,876.2 L1311.1,878.0 L1309.2,879.7 L1307.3,881.5 L1305.4,883.3 L1303.5,885.0 L1301.5,886.8 L1299.6,888.6 L1297.7,890.4 L1295.8,892.2 L1293.9,894.0 L1291.9,895.9 L1290.0,897.7 L1288.1,899.5 L1286.2,901.3 L1284.2,903.2 L1282.3,905.0 L1280.4,906.9 L1278.4,908.7 L1276.5,910.6 L1274.6,912.4 L1272.7,914.3 L1270.7,916.1 L1268.8,918.0 L1266.9,919.9 L1264.9,921.7 L1263.0,923.6 L1261.1,925.4 L1259.2,927.3 L1257.2,929.2 L1255.3,931.0 L1253.4,932.9 L1251.4,934.8 L1249.5,936.7 L1247.6,938.5 L1245.6,940.4 L1243.7,942.3 L1241.8,944.1 L1239.8,946.0 L1237.9,947.9 L1236.0,949.7 L1234.0,951.6 L1232.1,953.4 L1230.2,955.3 L1228.2,957.2 L1226.3,959.0 L1224.4,960.9 L1222.4,962.7 L1220.5,964.6 L1218.6,966.4 L1216.6,968.2 L1214.7,970.1 L1212.8,971.9 L1210.8,973.7 L1208.9,975.6 L1207.0,977.4 L1205.0,979.2 L1203.1,981.0 L1201.1,982.9 L1199.2,984.7 L1197.3,986.5 L1195.3,988.3 L1193.4,990.1 L1191.5,991.9 L1189.5,993.7 L1187.6,995.5 L1185.6,997.3 L1183.7,999.1 L1181.8,1000.9 L1179.8,1002.6 L1177.9,1004.4 L1175.9,1006.1 L1174.0,1007.9 L1172.0,1009.6 L1170.1,1011.4 L1168.2,1013.1 L1166.2,1014.8 L1164.3,1016.5 L1162.3,1018.2 L1160.4,1019.9 L1158.4,1021.6 L1156.5,1023.2 L1154.5,1024.9 L1152.6,1026.5 L1150.6,1028.2 L1148.7,1029.8 L1146.7,1031.4 L1144.8,1033.0 L1142.9,1034.6 L1140.9,1036.2 L1139.0,1037.8 L1137.0,1039.4 L1135.0,1040.9 L1133.1,1042.5 L1131.1,1044.0 L1129.2,1045.5 L1127.2,1047.0 L1125.3,1048.5 L1123.3,1050.0 L1121.4,1051.5 L1119.4,1053.0 L1117.5,1054.4 L1115.5,1055.8 L1113.6,1057.3 L1111.6,1058.7 L1109.6,1060.1 L1107.7,1061.5 L1105.7,1062.8 L1103.8,1064.2 L1101.8,1065.5 L1099.9,1066.9 L1097.9,1068.2 L1095.9,1069.5 L1094.0,1070.8 L1092.0,1072.1 L1090.0,1073.3 L1088.1,1074.6 L1086.1,1075.8 L1084.1,1077.0 L1082.2,1078.2 L1080.2,1079.4 L1078.3,1080.6 L1076.3,1081.7 L1074.3,1082.9 L1072.3,1084.0 L1070.4,1085.1 L1068.4,1086.2 L1066.4,1087.2 L1064.5,1088.3 L1062.5,1089.3 L1060.5,1090.4 L1058.5,1091.4 L1056.6,1092.4 L1054.6,1093.3 L1052.6,1094.3 L1050.6,1095.2 L1048.7,1096.2 L1046.7,1097.1 L1044.7,1098.0 L1042.7,1098.8 L1040.8,1099.7 L1038.8,1100.5 L1036.8,1101.3 L1034.8,1102.2 L1032.8,1102.9 L1030.8,1103.7 L1028.9,1104.5 L1026.9,1105.2 L1024.9,1105.9 L1022.9,1106.6 L1020.9,1107.3 L1018.9,1107.9 L1017.0,1108.6 L1015.0,1109.2 L1013.0,1109.8 L1011.0,1110.4 L1009.0,1111.0 L1007.0,1111.5 L1005.0,1112.0 L1003.0,1112.5 L1001.0,1113.0 L999.0,1113.5 L997.0,1114.0 L995.0,1114.4 L993.0,1114.8 L991.0,1115.2 L989.0,1115.6 L987.0,1115.9 L985.0,1116.3 L983.1,1116.6 L981.1,1116.9 L979.1,1117.1 L977.1,1117.4 L975.0,1117.6 L973.0,1117.8 L971.0,1118.0 L969.0,1118.2 L967.0,1118.3 L965.0,1118.5 L963.0,1118.6 L961.0,1118.7 L959.0,1118.7 L957.0,1118.8 L955.0,1118.8 L953.0,1118.8 L951.0,1118.8 L948.9,1118.7 L946.9,1118.7 L944.9,1118.6 L942.9,1118.5 L940.9,1118.3 L938.9,1118.2 L936.9,1118.0 L934.9,1117.8 L932.9,1117.6 L930.9,1117.4 L928.9,1117.1 L926.9,1116.8 L924.9,1116.5 L922.9,1116.2 L920.9,1115.9 L918.9,1115.5 L916.9,1115.2 L914.9,1114.8 L912.9,1114.4 L910.9,1113.9 L908.9,1113.5 L906.9,1113.0 L904.9,1112.5 L902.9,1112.0 L900.9,1111.5 L899.0,1110.9 L897.0,1110.4 L895.0,1109.8 L893.0,1109.2 L891.0,1108.6 L889.0,1107.9 L887.0,1107.3 L885.0,1106.6 L883.0,1105.9 L881.1,1105.2 L879.1,1104.4 L877.1,1103.7 L875.1,1102.9 L873.1,1102.1 L871.1,1101.3 L869.2,1100.5 L867.2,1099.7 L865.2,1098.8 L863.2,1097.9 L861.2,1097.0 L859.3,1096.1 L857.3,1095.2 L855.3,1094.2 L853.3,1093.3 L851.4,1092.3 L849.4,1091.3 L847.4,1090.3 L845.4,1089.3 L843.5,1088.2 L841.5,1087.2 L839.5,1086.1 L837.6,1085.0 L835.6,1083.9 L833.6,1082.8 L831.7,1081.6 L829.7,1080.5 L827.7,1079.3 L825.8,1078.1 L823.8,1076.9 L821.8,1075.7 L819.9,1074.5 L817.9,1073.2 L815.9,1072.0 L814.0,1070.7 L812.0,1069.4 L810.1,1068.1 L808.1,1066.8 L806.1,1065.4 L804.2,1064.1 L802.2,1062.7 L800.2,1061.4 L798.3,1060.0 L796.3,1058.6 L794.4,1057.1 L792.4,1055.7 L790.4,1054.2 L788.5,1052.8 L786.5,1051.3 L784.5,1049.7 L782.6,1048.2 L780.6,1046.7 L778.6,1045.1 L776.7,1043.5 L774.7,1041.9 L772.8,1040.3 L770.8,1038.7 L768.9,1037.0 L766.9,1035.4 L765.0,1033.7 L763.0,1032.0 L761.1,1030.4 L759.1,1028.7 L757.2,1027.0 L755.2,1025.3 L753.3,1023.5 L751.3,1021.8 L749.4,1020.1 L747.5,1018.3 L745.5,1016.6 L743.6,1014.8 L741.6,1013.0 L739.7,1011.3 L737.7,1009.5 L735.8,1007.7 L733.9,1005.9 L731.9,1004.1 L730.0,1002.2 L728.0,1000.4 L726.1,998.6 L724.1,996.7 L722.2,994.9 L720.3,993.0 L718.3,991.2 L716.4,989.3 L714.4,987.4 L712.5,985.6 L710.6,983.7 L708.6,981.8 L706.7,979.9 L704.8,978.0 L702.8,976.1 L700.9,974.2 L699.0,972.3 L697.0,970.4 L695.1,968.6 L694.2,967.7 L693.3,966.8 L692.5,966.0 L691.6,965.1 L690.7,964.2 L689.8,963.4 L688.9,962.5 L688.0,961.7 L687.2,960.8 L686.3,960.0 L685.4,959.1 L684.5,958.2 L683.6,957.4 L682.8,956.5 L681.9,955.7 L681.0,954.8 L680.1,954.0 L679.2,953.2 L678.4,952.3 L677.5,951.5 L676.6,950.6 L675.7,949.8 L674.8,949.0 L674.0,948.1 L673.1,947.3 L672.2,946.5 L671.3,945.6 L670.4,944.8 L669.6,944.0 L668.7,943.2 L667.8,942.3 L666.9,941.5 L666.1,940.7 L665.2,939.9 L664.3,939.1 L663.4,938.3 L662.5,937.5 L661.7,936.7 L660.8,935.9 L659.9,935.1 L659.0,934.3 L658.2,933.5 L657.3,932.7 L656.4,931.9 L655.5,931.1 L654.6,930.3 L653.8,929.6 L652.9,928.8 L652.0,928.0 L651.1,927.2 L650.2,926.4 L649.4,925.6 L648.5,924.9 L647.6,924.1 L646.7,923.3 L645.8,922.5 L644.9,921.8 L644.1,921.0 L643.2,920.2 L642.3,919.4 L641.4,918.7 L640.5,917.9 L639.6,917.1 L638.8,916.3 L637.9,915.6 L637.0,914.8 L636.1,914.0 L635.2,913.2 L634.3,912.5 L633.5,911.7 L632.6,910.9 L631.7,910.1 L630.8,909.4 L629.9,908.6 L629.0,907.8 L628.2,907.1 L627.3,906.3 L626.4,905.5 L625.5,904.7 L624.6,904.0 L623.7,903.2 L622.9,902.4 L622.0,901.7 L621.1,900.9 L620.2,900.1 L619.3,899.4 L618.4,898.6 L617.6,897.8 L616.7,897.1 L615.8,896.3 L614.9,895.5 L614.0,894.8 L613.1,894.0 L612.3,893.2 L611.4,892.5 L610.5,891.7 L609.6,890.9 L608.7,890.2 L607.8,889.4 L607.0,888.7 L606.1,887.9 L605.2,887.1 L604.3,886.4 L603.4,885.6 L602.5,884.9 L601.7,884.1 L600.8,883.4 L599.9,882.6 L599.0,881.9 L598.1,881.1 L597.3,880.4 L596.4,879.6 L595.5,878.9 L594.6,878.1 L593.8,877.4 L592.9,876.7 L592.0,876.0 L591.1,875.2 L590.3,874.5 L589.4,873.8 L588.5,873.1 L587.7,872.4 L586.8,871.7 L585.9,871.0 L585.1,870.3 L584.2,869.6 L583.3,868.9 L582.4,868.2 L581.6,867.5 L580.7,866.9 L579.8,866.2 L579.0,865.5 L578.1,864.9 L577.2,864.2 L576.3,863.5 L575.5,862.9 L574.6,862.2 L573.7,861.5 L572.8,860.9 L572.0,860.2 L571.1,859.6 L570.2,858.9 L569.3,858.3 L568.4,857.6 L567.6,857.0 L566.7,856.3 L565.8,855.7 L564.9,855.0 L564.0,854.4 L563.1,853.7 L562.3,853.1 L561.4,852.4 L560.5,851.8 L559.6,851.1 L558.7,850.5 L557.8,849.8 L557.0,849.2 L556.1,848.5 L555.2,847.9 L554.3,847.2 L553.4,846.6 L552.5,845.9 L551.7,845.3 L550.8,844.7 L549.9,844.0 L549.0,843.4 L548.1,842.7 L547.2,842.1 L546.4,841.4 L545.5,840.8 L544.6,840.2 L543.7,839.5 L542.8,838.9 L542.0,838.2 L541.1,837.6 L540.2,837.0 L539.3,836.3 L538.4,835.7 L537.5,835.1 L536.7,834.4 L535.8,833.8 L534.9,833.2 L534.0,832.5 L533.1,831.9 L532.3,831.3 L531.4,830.7 L530.5,830.0 L529.6,829.4 L528.7,828.8 L527.8,828.1 L527.0,827.5 L526.1,826.9 L525.2,826.3 L524.3,825.6 L523.4,825.0 L522.5,824.4 L521.7,823.8 L520.8,823.1 L519.9,822.5 L519.0,821.9 L518.1,821.3 L517.2,820.6 L516.3,820.0 L515.5,819.4 L514.6,818.7 L513.7,818.1 L512.8,817.5 L511.9,816.9 L511.0,816.2 L510.1,815.6 L509.3,815.0 L508.4,814.4 L507.5,813.7 L506.6,813.1 L505.7,812.5 L504.8,811.8 L503.9,811.2 L503.1,810.6 L502.2,809.9 L501.3,809.3 L500.4,808.6 L499.5,808.0 L498.6,807.4 L497.7,806.7 L496.8,806.0 L495.9,805.4 L495.0,804.7 L494.1,804.0 L493.2,803.3 L492.2,802.7 L491.3,802.0 L490.4,801.3 L489.5,800.5 L488.6,799.8 L487.7,799.1 L486.8,798.3 L485.8,797.6 L484.9,796.8 L484.0,796.1 L483.1,795.3 L482.2,794.5 L481.3,793.7 L480.4,793.0 L479.5,792.2 L478.6,791.3 L477.6,790.5 L476.7,789.7 L475.8,788.9 L474.9,788.1 L474.0,787.2 L473.1,786.4 L472.2,785.6 L471.4,784.7 L470.5,783.9 L469.6,783.0 L468.7,782.2 L467.8,781.3 L466.9,780.5 L466.0,779.6 L465.1,778.8 L464.2,777.9 L463.3,777.0 L462.4,776.2 L461.5,775.3 L460.6,774.4 L459.7,773.5 L458.8,772.6 L457.9,771.7 L457.0,770.8 L456.1,769.9 L455.2,769.0 L454.4,768.1 L453.5,767.2 L452.6,766.3 L451.7,765.4 L450.8,764.5 L449.9,763.6 L449.0,762.6 L448.1,761.7 L447.2,760.8 L446.3,759.8 L445.4,758.9 L444.5,757.9 L443.6,757.0 L442.7,756.0 L441.8,755.1 L440.9,754.1 L440.0,753.2 L439.2,752.2 L438.3,751.2 L437.4,750.3 L436.5,749.3 L435.6,748.3 L434.7,747.4 L433.8,746.4 L432.9,745.4 L432.0,744.4 L431.2,743.5 L430.3,742.5 L429.4,741.5 L428.5,740.5 L427.6,739.5 L426.7,738.6 L425.8,737.6 L425.0,736.6 L424.1,735.7 L423.2,734.7 L422.3,733.7 L421.4,732.7 L420.6,731.8 L419.7,730.8 L418.8,729.9 L417.9,728.9 L417.0,727.9 L416.2,727.0 L415.3,726.0 L414.4,725.1 L413.5,724.1 L412.6,723.2 L411.7,722.2 L410.9,721.3 L410.0,720.3 L409.1,719.4 L408.2,718.4 L407.3,717.5 L406.4,716.5 L405.5,715.5 L404.7,714.6 L403.8,713.6 L402.9,712.7 L402.0,711.7 L401.1,710.8 L400.2,709.8 L399.3,708.8 L398.4,707.9 L397.6,706.9 L396.7,705.9 L395.8,705.0 L394.9,704.0 L394.0,703.0 L393.1,702.1 L392.3,701.1 L391.4,700.2 L390.5,699.2 L389.6,698.3 L388.8,697.4 L387.9,696.5 L387.0,695.5 L386.2,694.6 L385.3,693.8 L384.5,692.9 L383.6,692.0 L382.8,691.2 L381.9,690.3 L381.1,689.5 L380.2,688.7 L379.4,687.9 L378.6,687.1 L377.7,686.4 L376.9,685.6 L376.1,684.9 L375.3,684.2 L374.5,683.6 L373.7,682.9 L372.9,682.3 L372.1,681.7 L371.3,681.1 L370.5,680.6 L369.7,680.0 L369.0,679.5 L368.2,679.1 L367.5,678.6 L366.7,678.2 L366.0,677.8 L365.3,677.5 L364.6,677.1 L363.9,676.8 L363.1,676.5 L362.4,676.2 L361.7,676.0 L361.0,675.8 L360.3,675.5 L359.7,675.4 L359.0,675.2 L358.3,675.1 L357.6,675.0 L356.9,674.9 L356.3,674.8 L355.6,674.7 L354.9,674.7 L354.3,674.7 L353.7,674.8 L353.0,674.9 L352.4,675.0 L351.8,675.1 L351.1,675.3 L350.5,675.4 L349.9,675.7 L349.2,675.9 L348.6,676.1 L347.9,676.4 L347.3,676.8 L346.6,677.1 L345.9,677.5 L345.2,677.9 L344.5,678.4 L343.8,678.9 L343.1,679.4 L342.3,680.0 L341.6,680.6 L340.9,681.2 L340.1,681.9 L339.4,682.6 L338.7,683.3 L337.9,684.2 L337.2,685.0 L336.4,685.9 L335.6,686.9 L334.8,687.9 L334.0,689.0 L333.2,690.1 L332.4,691.3 L331.5,692.5 L330.7,693.8 L329.9,695.1 L329.1,696.4 L328.2,697.8 L327.4,699.2 L326.6,700.7 L325.7,702.2 L324.9,703.9 L324.0,705.5 L323.2,707.2 L322.3,709.0 L321.5,710.8 L320.6,712.6 L319.8,714.5 L318.9,716.5 L318.0,718.5 L317.2,720.6 L316.3,722.8 L315.5,724.9 L314.6,727.2 L313.7,729.5 L312.9,731.9 L312.0,734.3 L311.1,736.8 L310.3,739.4 L309.4,741.9 L308.5,744.6 L307.7,747.3 L306.8,750.2 L305.9,753.1 L305.0,756.1 L304.2,759.1 L303.3,762.3 L302.4,765.5 L301.5,768.7 L300.7,772.0 L299.8,775.4 L298.9,778.9 L298.1,782.6 L297.2,786.5 L296.3,790.5 L295.4,794.6 L294.5,798.7 L293.6,802.7 L292.7,806.7 L291.8,810.5 L290.9,814.0 L290.0,817.5 L289.1,820.9 L288.2,824.2 L287.3,827.5 L286.4,830.7 L285.6,834.0 L284.7,837.3 L283.8,840.7 L282.9,844.2 L282.0,847.7 L281.1,851.2 L280.2,854.7 L279.3,858.3 L278.4,861.9 L277.5,865.5 L276.7,869.2 L275.8,873.1 L274.9,877.0 L274.0,881.0 L273.1,885.2 L272.2,889.5 L271.3,894.0 L270.5,898.5 L269.6,903.2 L268.7,908.1 L267.8,913.1 L266.9,918.4 L266.1,923.8 L265.2,929.4Z" fill="#0000f5" stroke="none"/>
<path d="M170.7,921.0 L171.2,885.5 L171.7,851.1 L172.2,818.3 L172.7,787.3 L173.2,757.4 L173.7,727.8 L174.2,697.6 L174.6,666.0 L175.1,632.1 L175.6,596.3 L176.1,559.6 L176.6,523.0 L177.1,487.6 L177.6,454.4 L178.1,424.4 L178.6,395.9 L179.1,368.2 L179.6,341.7 L180.1,316.4 L180.6,292.9 L181.1,271.3 L181.5,251.9 L182.0,234.3 L182.5,217.5 L183.0,201.8 L183.5,187.3 L184.0,174.1 L184.5,162.5 L185.0,152.6" stroke="#0000f0" stroke-width="13.5" stroke-dasharray="53.2 3.3 30.7 3.3" stroke-dashoffset="1.35"/>
<path d="M185.0,152.6 L185.6,169.6 L186.2,187.6 L186.8,206.6 L187.3,226.5 L187.9,247.2 L188.5,268.9 L189.1,291.7 L189.7,315.6 L190.3,340.4 L190.9,366.1 L191.5,392.7 L192.0,419.9 L192.6,447.8 L193.2,477.6 L193.8,508.9 L194.4,541.2 L195.0,573.7 L195.6,605.8 L196.1,636.9 L196.7,666.6 L197.3,696.1 L197.9,725.3 L198.5,753.9 L199.1,781.4 L199.7,807.6 L200.2,832.1 L200.8,854.6 L201.4,875.8 L202.0,896.5 L202.6,917.1 L203.2,938.6 L203.8,961.4 L204.4,985.5 L204.9,1010.3 L205.5,1035.6 L206.1,1060.8 L206.7,1085.7 L207.3,1109.7 L207.9,1132.4 L208.5,1153.5 L209.0,1173.5 L209.6,1192.5 L210.2,1210.3 L210.8,1226.8 L211.4,1242.0 L212.0,1256.0 L212.6,1269.2 L213.1,1281.3 L213.7,1292.6 L214.3,1303.6 L214.9,1315.1 L215.5,1327.8 L216.1,1341.5 L216.7,1355.0 L217.3,1367.4 L217.8,1377.9 L218.4,1387.5 L219.0,1396.1 L219.6,1403.6" stroke="#0000f0" stroke-width="13.5" stroke-dasharray="53.2 3.3 30.7 3.3" stroke-dashoffset="41.35"/>
<path d="M219.6,1403.6 L220.3,1392.4 L221.1,1381.5 L221.8,1371.1 L222.5,1361.1 L223.3,1351.4 L224.0,1342.0 L224.7,1333.0 L225.5,1324.3 L226.2,1316.0 L227.0,1307.7 L227.7,1299.1 L228.4,1290.4 L229.2,1281.7 L229.9,1272.7 L230.6,1263.2 L231.4,1253.0 L232.1,1242.1 L232.8,1230.8 L233.6,1219.1 L234.3,1207.3 L235.0,1195.0 L235.8,1182.5 L236.5,1170.4 L237.3,1158.9 L238.0,1147.9 L238.7,1137.2 L239.5,1126.5 L240.2,1116.0 L240.9,1105.7 L241.7,1095.7 L242.4,1085.8 L243.1,1075.8 L243.9,1065.8 L244.6,1055.8 L245.3,1046.1 L246.1,1036.6 L246.8,1027.5 L247.6,1018.7 L248.3,1010.4 L249.0,1002.7 L249.8,995.6 L250.5,988.8 L251.2,982.2 L252.0,976.0 L252.7,970.0 L253.4,964.2 L254.2,958.5 L254.9,953.1 L255.6,947.8 L256.4,942.7 L257.1,937.6 L257.9,932.6 L258.6,927.8 L259.3,923.1 L260.1,918.5 L260.8,914.0 L261.5,909.6 L262.3,905.4 L263.0,901.2" stroke="#0000f0" stroke-width="13.5" stroke-dasharray="53.2 3.3 30.7 3.3" stroke-dashoffset="19.35"/>
<rect x="172.2" y="409.5" width="13.6" height="12" fill="#0000f0" stroke="none"/>
<line x1="172.3" y1="386" x2="172.3" y2="612" stroke="#000030" stroke-opacity="0.55" stroke-width="3.4"/>
</g>
<g font-family="'Liberation Sans', Arial, Helvetica, sans-serif" fill="#464646">
<text transform="translate(168.6,1498.4) scale(1.06,1)" font-size="46.5" text-anchor="middle">0</text>
<text transform="translate(635.4,1498.4) scale(1.06,1)" font-size="46.5" text-anchor="middle">5</text>
<text transform="translate(1102.3,1498.4) scale(1.06,1)" font-size="46.5" text-anchor="middle">10</text>
<text transform="translate(1567.5,1498.4) scale(1.06,1)" font-size="46.5" text-anchor="middle">15</text>
<text transform="translate(2030.6,1498.4) scale(1.06,1)" font-size="46.5" text-anchor="middle">20</text>
<text transform="translate(150.0,182.7) scale(1.06,1)" font-size="46.5" text-anchor="end">30</text>
<text transform="translate(150.0,436.0) scale(1.06,1)" font-size="46.5" text-anchor="end">20</text>
<text transform="translate(150.0,689.4) scale(1.06,1)" font-size="46.5" text-anchor="end">10</text>
<text transform="translate(150.0,942.8) scale(1.06,1)" font-size="46.5" text-anchor="end">0</text>
<text transform="translate(150.0,1196.1) scale(1.06,1)" font-size="46.5" x="-71.33 -51.73 -25.86" dy="2.2 -2.2 0">-10</text>
<text transform="translate(150.0,1449.6) scale(1.06,1)" font-size="46.5" x="-71.33 -51.73 -25.86" dy="2.2 -2.2 0">-20</text>
</g>
<g font-family="'Liberation Serif', 'Times New Roman', Times, serif" fill="#4e4e4e">
<text transform="translate(1104.7,1570.2) scale(1.03,1)" font-size="50" text-anchor="middle">Time (s)</text>
<text transform="translate(49.6,725.3) rotate(-90) scale(1.0,1)" font-size="50" text-anchor="middle">Disturbance</text>
</g>
</g>
<g filter="url(#soft)">
<rect x="1511.6" y="78.8" width="475.4" height="151.3" fill="#ffffff" stroke="#161616" stroke-width="3.2"/>
<line x1="1520" y1="112.8" x2="1879" y2="112.8" stroke="#ff0000" stroke-width="19"/>
<line x1="1520" y1="184.7" x2="1875.6" y2="184.7" stroke="#0000ee" stroke-width="12" stroke-dasharray="49 7.6 26.2 7.6"/>
<g font-family="'Liberation Serif', 'Times New Roman', Times, serif" fill="#4e4e4e">
<text font-size="46"><tspan x="1885.6" y="135.6">ξ</tspan><tspan font-size="43" x="1907.6 1924.4 1939.6" y="131.2">(t)</tspan></text>
<text font-size="47"><tspan x="1885.8" y="197.6">z</tspan><tspan font-size="35" x="1909.0" y="219.6" textLength="21.5" lengthAdjust="spacingAndGlyphs">2</tspan><tspan font-size="43" x="1926.9 1943.8 1959.0" y="198.2">(t)</tspan></text>
</g>
</g>
</svg>
</body>
</html>
